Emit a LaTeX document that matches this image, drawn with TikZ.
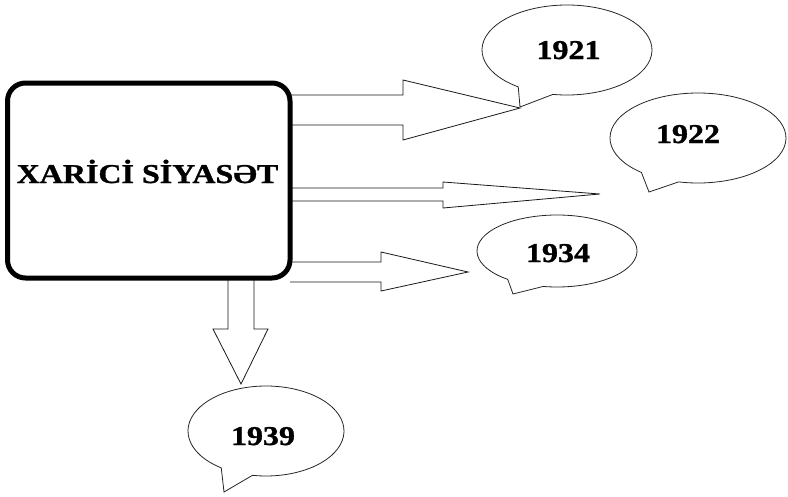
\documentclass[tikz,border=0pt]{standalone}
\usepackage{fontspec}
\setmainfont{Liberation Serif}
\newfontfamily\heavyfont[BoldFeatures={FakeBold=1}]{Liberation Serif}
\usetikzlibrary{positioning}

\newcommand{\squash}[1]{\scalebox{1}[0.85]{#1}}

\begin{document}
\begin{tikzpicture}[x=1pt, y=-1pt, line join=miter,
  mainbox/.style={draw, line width=5pt, rounded corners=18pt, minimum width=282.5pt, minimum height=195pt, inner sep=0pt},
  blockarrow/.style={draw=black!90, line width=0.8pt, fill=white},
  bubble/.style={draw=black!85, line width=0.8pt, fill=white},
  boxtext/.style={font=\heavyfont\bfseries\fontsize{32}{32}\selectfont, inner sep=0pt, anchor=base},
  yeartext/.style={font=\heavyfont\bfseries\fontsize{32}{32}\selectfont, inner sep=0pt, anchor=base}]

\useasboundingbox (0,0) rectangle (788,496);

% Arrows out of the box
\draw[blockarrow] (290,95) -- (403,95) -- (403,80) -- (520,108) -- (403,140) -- (403,125) -- (290,125);
\draw[blockarrow] (290,188) -- (443,188) -- (443,182) -- (600,194) -- (443,208) -- (443,201) -- (290,201);
\draw[blockarrow] (290,262) -- (381,262) -- (381,252) -- (468,272) -- (381,291) -- (381,282) -- (290,282);
\draw[blockarrow] (228,278) -- (228,329) -- (213,329) -- (241,384) -- (268,329) -- (254,329) -- (254,278);

% Main box
\node[mainbox] (policy) at (148.75,180.5) {};
\node[boxtext] (policytext) at (147.5,183) {\squash{XARİCİ SİYASƏT}};

% Bubbles
\draw[bubble] (567,50) ++(125:85 and 45) arc[start angle=125, end angle=459.5, x radius=85, y radius=45] -- (520,107) -- cycle;
\node[yeartext] (y1921) at (568.5,59) {\squash{1921}};

\draw[bubble] (698,138) ++(130:88 and 45) arc[start angle=130, end angle=462.7, x radius=88, y radius=45] -- (649,192) -- cycle;
\node[yeartext] (y1922) at (688,143) {\squash{1922}};

\draw[bubble] (557,251) ++(128:80 and 36) arc[start angle=128, end angle=460, x radius=80, y radius=36] -- (513,294) -- cycle;
\node[yeartext] (y1934) at (558,262) {\squash{1934}};

\draw[bubble] (266,431) ++(125:78 and 45) arc[start angle=125, end angle=460, x radius=78, y radius=45] -- (224,492) -- cycle;
\node[yeartext] (y1939) at (263,445) {\squash{1939}};

\end{tikzpicture}
\end{document}
